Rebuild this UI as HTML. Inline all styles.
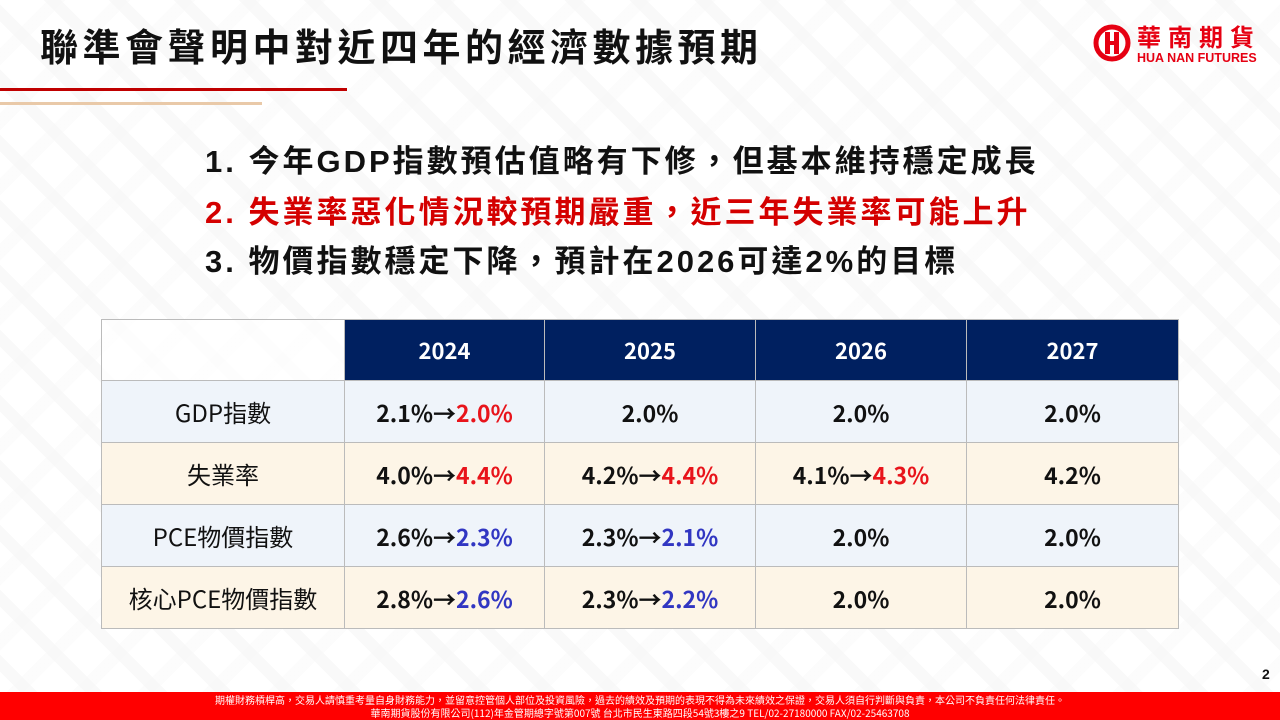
<!DOCTYPE html>
<html><head><meta charset="utf-8"><style>
*{margin:0;padding:0;box-sizing:border-box}
body{width:1280px;height:720px;overflow:hidden;position:relative;font-family:"Liberation Sans","Noto Sans CJK TC",sans-serif;
background:#fff repeating-linear-gradient(45deg,#fff 0 34px,#f9f9f9 34px 46px);}
.bg{position:absolute;inset:0;background:repeating-linear-gradient(-45deg,rgba(255,255,255,0) 0 34px,rgba(248,248,248,.5) 34px 46px);}
.t{position:absolute;white-space:nowrap}
table{position:absolute;left:101px;top:319px;border-collapse:collapse;font-family:"Noto Sans CJK TC",sans-serif;}
td{border:1.5px solid #bbb;text-align:center;font-size:23px;color:#111;font-weight:bold;height:62px}
td.l{font-weight:normal;font-size:24px}
tr.h td{background:#002060;color:#fff;height:61px;font-size:22px}
tr.h td:first-child{background:rgba(255,255,255,.6)}
.r{color:#e8141b}.b{color:#3136c2}
tr.a td{background:rgba(237,243,250,.9)}
tr.c td{background:rgba(253,244,228,.9)}
</style></head><body><div class="bg"></div>
<div class="t" style="left:40px;top:17px;font-size:38px;font-weight:bold;color:#111;font-family:'Noto Sans CJK TC',sans-serif;letter-spacing:4.5px">聯準會聲明中對近四年的經濟數據預期</div>
<div style="position:absolute;left:0;top:88px;width:347px;height:3px;background:#c00000"></div>
<div style="position:absolute;left:0;top:102px;width:262px;height:3px;background:#e9c9a8"></div>
<svg style="position:absolute;left:1093px;top:24px" width="38" height="38" viewBox="0 0 38 38"><circle cx="19" cy="19" r="16" fill="none" stroke="#e60012" stroke-width="5"/><rect x="12" y="8" width="5" height="22" fill="#e60012"/><rect x="21" y="8" width="5" height="22" fill="#e60012"/><rect x="12" y="17" width="14" height="4" fill="#e60012"/></svg>
<div class="t" style="left:1137px;top:18px;font-size:24px;font-weight:bold;color:#e60012;letter-spacing:7px;font-family:'Noto Sans CJK TC',sans-serif">華南期貨</div>
<div class="t" style="left:1137px;top:51px;font-size:12.5px;font-weight:bold;color:#e60012">HUA NAN FUTURES</div>
<div style="font-family:'Liberation Sans','Noto Sans CJK TC',sans-serif;font-weight:bold;font-size:31px;letter-spacing:3px">
<div class="t" style="left:205px;top:136px;color:#111">1. 今年GDP指數預估值略有下修，但基本維持穩定成長</div>
<div class="t" style="left:205px;top:187px;color:#d40000">2. 失業率惡化情況較預期嚴重，近三年失業率可能上升</div>
<div class="t" style="left:205px;top:236px;color:#111">3. 物價指數穩定下降，預計在2026可達2%的目標</div>
</div>
<table>
<tr class="h"><td style="width:243px"></td><td style="width:200px">2024</td><td style="width:211px">2025</td><td style="width:211px">2026</td><td style="width:212px">2027</td></tr>
<tr class="a"><td class="l">GDP指數</td><td>2.1%→<span class="r">2.0%</span></td><td>2.0%</td><td>2.0%</td><td>2.0%</td></tr>
<tr class="c"><td class="l">失業率</td><td>4.0%→<span class="r">4.4%</span></td><td>4.2%→<span class="r">4.4%</span></td><td>4.1%→<span class="r">4.3%</span></td><td>4.2%</td></tr>
<tr class="a"><td class="l">PCE物價指數</td><td>2.6%→<span class="b">2.3%</span></td><td>2.3%→<span class="b">2.1%</span></td><td>2.0%</td><td>2.0%</td></tr>
<tr class="c"><td class="l">核心PCE物價指數</td><td>2.8%→<span class="b">2.6%</span></td><td>2.3%→<span class="b">2.2%</span></td><td>2.0%</td><td>2.0%</td></tr>
</table>
<div class="t" style="left:1262px;top:666px;font-size:14px;font-weight:bold;color:#111">2</div>
<div style="position:absolute;left:0;top:692px;width:1280px;height:28px;background:#ff0000;color:#fff;font-size:10px;line-height:13px;text-align:center;padding-top:1px;font-family:'Noto Sans CJK TC',sans-serif">
<div>期權財務槓桿高，交易人請慎重考量自身財務能力，並留意控管個人部位及投資風險，過去的績效及預期的表現不得為未來績效之保證，交易人須自行判斷與負責，本公司不負責任何法律責任。</div>
<div>華南期貨股份有限公司(112)年金管期總字號第007號 台北市民生東路四段54號3樓之9 TEL/02-27180000 FAX/02-25463708</div>
</div>
</body></html>
